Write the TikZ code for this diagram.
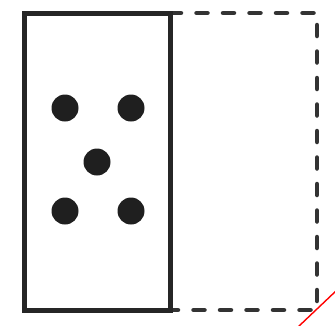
\documentclass[tikz,border=0pt]{standalone}
\usepackage{tikz}
\usetikzlibrary{positioning,calc}

\begin{document}
\begin{tikzpicture}[
    x=1pt, y=-1pt,
    solidbox/.style={draw=black!85, line width=5pt},
    dashbox/.style={draw=black!80, line width=4.5pt, dash pattern=on 11pt off 15.5pt, line cap=round},
    pip/.style={circle, fill=black!88, inner sep=0pt, minimum size=27pt},
    mark line/.style={draw=red, line width=1.4pt}
]
    \useasboundingbox (0,0) rectangle (335,325);

    % Corners
    \coordinate (tl) at (24,13);
    \coordinate (tm) at (170,13);
    \coordinate (bm) at (170,310);
    \coordinate (bl) at (24,310);
    \coordinate (tr) at (317,13);
    \coordinate (br) at (317,310);

    % Dashed half
    \draw [dashbox] (tm) -- (tr) -- (br) -- (bm);

    % Solid half
    \draw [solidbox] (tl) rectangle (bm);

    % Pips
    \node [pip] (pip_tl) at (65,108) {};
    \node [pip] (pip_tr) at (131,108) {};
    \node [pip] (pip_c) at (97,162) {};
    \node [pip] (pip_bl) at (65,211) {};
    \node [pip] (pip_br) at (131,211) {};

    % Red mark
    \coordinate (red_a) at (298,327);
    \coordinate (red_b) at (337,290);
    \draw [mark line] (red_a) -- (red_b);

\end{tikzpicture}
\end{document}
